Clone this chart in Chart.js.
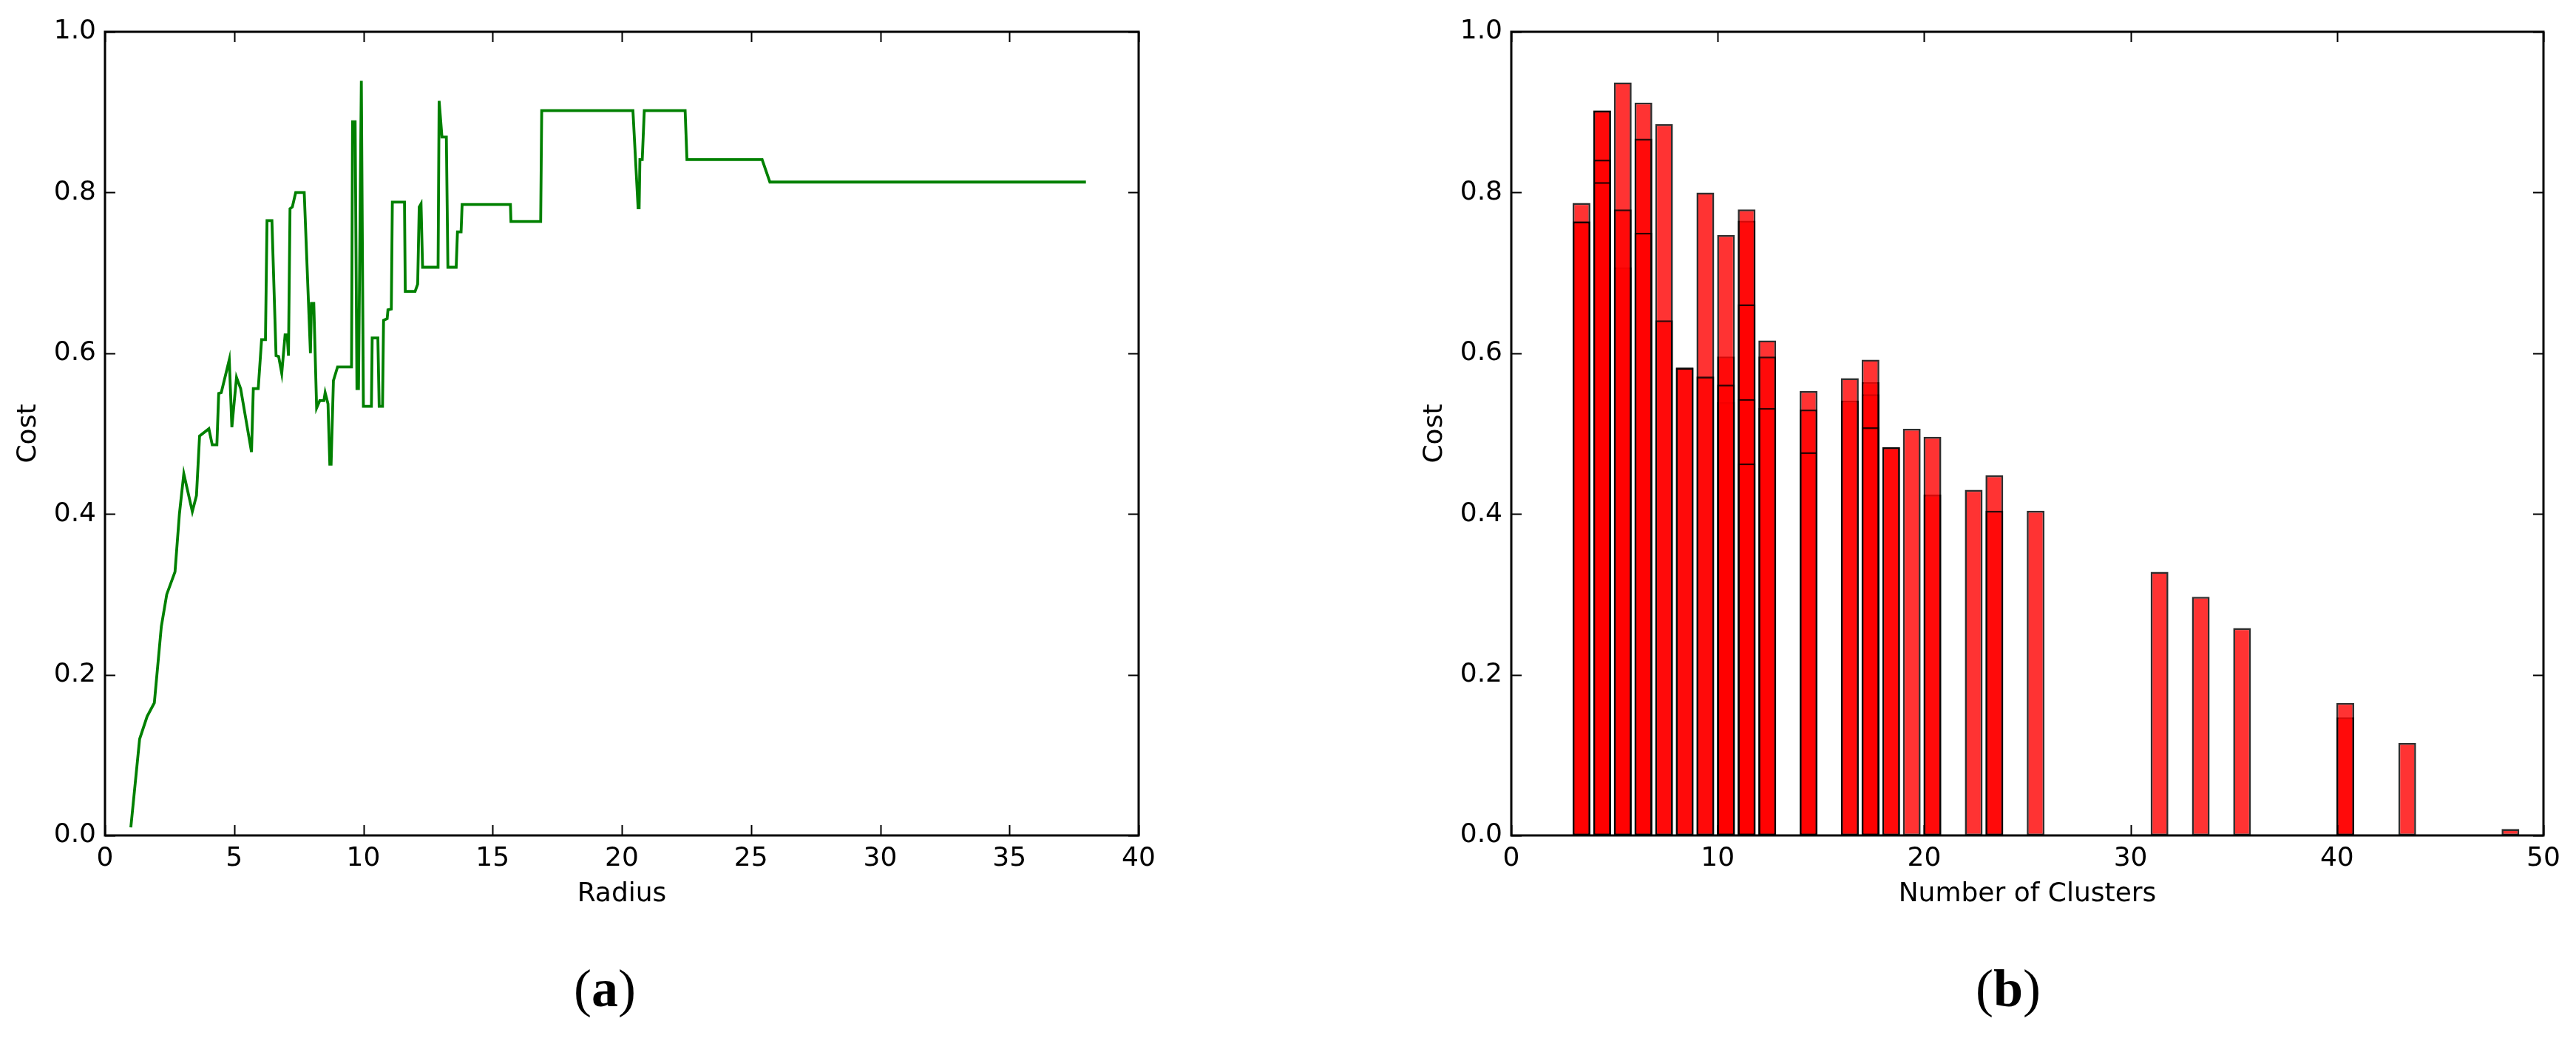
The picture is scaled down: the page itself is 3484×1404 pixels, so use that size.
<!DOCTYPE html>
<html>
<head>
<meta charset="utf-8">
<script src="https://cdn.jsdelivr.net/npm/chart.js@4/dist/chart.umd.min.js"></script>
<style>
  html, body { margin: 0; padding: 0; background: #fff; }
  body { width: 3484px; height: 1404px; position: relative; overflow: hidden; }
  canvas { position: absolute; top: 0; }
  #cA { left: 0px; }
  #cB { left: 1902px; }
  .cap { position: absolute; font-family: 'Liberation Serif', 'Times New Roman', serif; font-size: 72px; color: #000; transform: translate(-50%, -50%); white-space: nowrap; line-height: 1; }
</style>
</head>
<body>
<canvas id="cA" width="1700" height="1260"></canvas>
<canvas id="cB" width="1582" height="1260"></canvas>
<div class="cap" style="left:818px; top:1337px;">(<b>a</b>)</div>
<div class="cap" style="left:2716px; top:1337px;">(<b>b</b>)</div>
<script>
// ---------- Data: (a) cost vs radius ----------
const radius = [1.0, 1.34, 1.63, 1.91, 2.18, 2.39, 2.71, 2.88, 3.05, 3.38, 3.54, 3.66, 4.02, 4.15, 4.33, 4.40, 4.50, 4.81, 4.91, 5.09, 5.25, 5.67, 5.74, 5.93, 6.06, 6.21, 6.27, 6.46, 6.62, 6.72, 6.84, 6.97, 7.05, 7.10, 7.16, 7.25, 7.38, 7.71, 7.95, 7.99, 8.08, 8.19, 8.31, 8.47, 8.52, 8.63, 8.70, 8.75, 8.84, 9.00, 9.54, 9.58, 9.68, 9.75, 9.81, 9.92, 10.0, 10.31, 10.34, 10.56, 10.61, 10.74, 10.78, 10.92, 10.95, 11.08, 11.12, 11.59, 11.62, 12.0, 12.1, 12.16, 12.23, 12.29, 12.89, 12.93, 13.04, 13.21, 13.27, 13.59, 13.64, 13.78, 13.82, 15.69, 15.71, 16.86, 16.9, 20.43, 20.63, 20.67, 20.70, 20.79, 20.87, 22.45, 22.52, 25.43, 25.73, 37.96];
const radiusCost = [0.01, 0.12, 0.148, 0.165, 0.26, 0.30, 0.328, 0.40, 0.45, 0.403, 0.423, 0.497, 0.506, 0.486, 0.486, 0.55, 0.551, 0.592, 0.508, 0.57, 0.556, 0.477, 0.556, 0.556, 0.617, 0.617, 0.765, 0.765, 0.597, 0.596, 0.575, 0.623, 0.623, 0.597, 0.78, 0.782, 0.80, 0.80, 0.60, 0.662, 0.662, 0.532, 0.541, 0.541, 0.551, 0.537, 0.462, 0.462, 0.566, 0.583, 0.583, 0.888, 0.888, 0.556, 0.556, 0.939, 0.534, 0.534, 0.619, 0.619, 0.534, 0.534, 0.641, 0.643, 0.654, 0.655, 0.788, 0.788, 0.677, 0.677, 0.686, 0.782, 0.786, 0.707, 0.707, 0.914, 0.869, 0.869, 0.707, 0.707, 0.751, 0.751, 0.785, 0.785, 0.764, 0.764, 0.902, 0.902, 0.781, 0.781, 0.841, 0.841, 0.902, 0.902, 0.841, 0.841, 0.813, 0.813];

// ---------- Data: (b) cost vs number of clusters (overlapping bars, in drawing order) ----------
const clusterCounts = [3, 4, 5, 6, 7, 8, 9, 10, 11, 12, 14, 16, 17, 18, 19, 20, 22, 23, 25, 31, 33, 35, 40, 43, 48];
const clusterCosts = [
  [0.787, 0.764, 0.764],
  [0.902, 0.902, 0.841, 0.813],
  [0.707, 0.937, 0.779],
  [0.912, 0.867, 0.750],
  [0.885, 0.641],
  [0.582, 0.582],
  [0.800, 0.571],
  [0.596, 0.539, 0.747, 0.561],
  [0.765, 0.779, 0.661, 0.543, 0.463],
  [0.616, 0.596, 0.532],
  [0.553, 0.530, 0.477],
  [0.541, 0.569],
  [0.564, 0.549, 0.592, 0.508],
  [0.483, 0.483],
  [0.506],
  [0.424, 0.496],
  [0.430],
  [0.448, 0.404],
  [0.404],
  [0.328],
  [0.297],
  [0.258],
  [0.147, 0.165],
  [0.115],
  [0.008]
];

// ---------- Tick labels ----------
const radiusTicks = [0, 5, 10, 15, 20, 25, 30, 35, 40];
const clusterTicks = [0, 10, 20, 30, 40, 50];
const costTicks = [0.0, 0.2, 0.4, 0.6, 0.8, 1.0];

const BAR_WIDTH = 0.8; // matplotlib default, edge-aligned

const FONT = { family: "'DejaVu Sans', sans-serif", size: 36 };

const frameTicks = {
  id: 'frameTicks',
  afterDatasetsDraw(chart) {
    const { ctx, chartArea: a, scales } = chart;
    const x = scales.x, y = scales.y;
    const L = 14;
    ctx.save();
    ctx.strokeStyle = '#000';
    ctx.lineWidth = 2;
    ctx.beginPath();
    x.ticks.forEach(t => {
      const px = Math.round(x.getPixelForValue(t.value)) + 0.5;
      ctx.moveTo(px, a.bottom); ctx.lineTo(px, a.bottom - L);
      ctx.moveTo(px, a.top); ctx.lineTo(px, a.top + L);
    });
    y.ticks.forEach(t => {
      const py = Math.round(y.getPixelForValue(t.value)) + 0.5;
      ctx.moveTo(a.left, py); ctx.lineTo(a.left + L, py);
      ctx.moveTo(a.right, py); ctx.lineTo(a.right - L, py);
    });
    ctx.stroke();
    ctx.lineWidth = 3;
    ctx.strokeRect(a.left, a.top, a.right - a.left, a.bottom - a.top);
    ctx.restore();
  }
};

function axes(xTitle, xTicks) {
  return {
    x: {
      type: 'linear',
      min: xTicks[0], max: xTicks[xTicks.length - 1],
      offset: false,
      afterBuildTicks: s => { s.ticks = xTicks.map(v => ({ value: v })); },
      afterFit: s => { s.height = 130; },
      grid: { display: false, drawTicks: false },
      border: { display: false },
      ticks: { color: '#000', font: FONT, padding: 10, maxRotation: 0, autoSkip: false,
               callback: v => String(v) },
      title: { display: true, text: xTitle, color: '#000', font: FONT, padding: { top: 0, bottom: 29 } }
    },
    y: {
      type: 'linear',
      min: 0, max: 1,
      afterBuildTicks: s => { s.ticks = costTicks.map(v => ({ value: v })); },
      afterFit: s => { s.width = 142; },
      grid: { display: false, drawTicks: false },
      border: { display: false },
      ticks: { color: '#000', font: FONT, padding: 12, autoSkip: false,
               callback: v => Number(v).toFixed(1) },
      title: { display: true, text: 'Cost', color: '#000', font: FONT, padding: { top: 17, bottom: 0 } }
    }
  };
}

const common = {
  responsive: false,
  animation: false,
  devicePixelRatio: 1,
  plugins: { legend: { display: false }, tooltip: { enabled: false }, title: { display: false } }
};

// Chart (a)
new Chart(document.getElementById('cA'), {
  type: 'line',
  data: {
    datasets: [{
      data: radius.map((r, i) => ({ x: r, y: radiusCost[i] })),
      borderColor: '#008000',
      borderWidth: 3.8,
      pointRadius: 0,
      tension: 0,
      fill: false
    }]
  },
  options: Object.assign({}, common, {
    layout: { padding: { top: 43, right: 160, bottom: 0, left: 0 } },
    scales: axes('Radius', radiusTicks)
  }),
  plugins: [frameTicks]
});

// Chart (b): one dataset per overlap layer
const maxLayers = Math.max(...clusterCosts.map(c => c.length));
const barSets = [];
for (let k = 0; k < maxLayers; k++) {
  const pts = [];
  clusterCounts.forEach((n, i) => {
    if (clusterCosts[i].length > k) pts.push({ x: n + BAR_WIDTH / 2, y: clusterCosts[i][k] });
  });
  barSets.push({
    data: pts,
    order: -k,
    backgroundColor: 'rgba(255,0,0,0.8)',
    borderColor: 'rgba(0,0,0,0.82)',
    borderWidth: 2.6,
    borderSkipped: false,
    grouped: false,
    categoryPercentage: 1.0,
    barPercentage: BAR_WIDTH + 0.06
  });
}

new Chart(document.getElementById('cB'), {
  type: 'bar',
  data: { datasets: barSets },
  options: Object.assign({}, common, {
    layout: { padding: { top: 43, right: 44, bottom: 0, left: 0 } },
    scales: axes('Number of Clusters', clusterTicks)
  }),
  plugins: [frameTicks]
});
</script>
</body>
</html>
